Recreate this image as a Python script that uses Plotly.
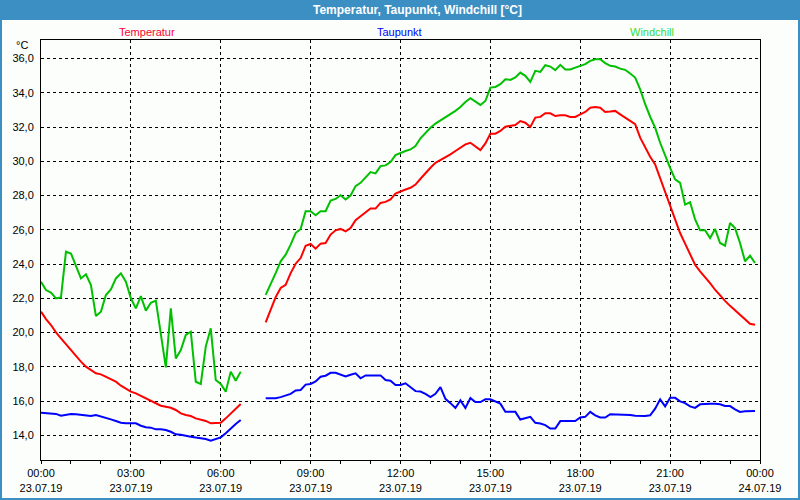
import pandas as pd
import plotly.graph_objects as go

# 10-minute samples, two segments with a gap between 06:40 and 07:30
TIMES_A = pd.date_range("2019-07-23 00:00", "2019-07-23 06:40", freq="10min")
TIMES_B = pd.date_range("2019-07-23 07:30", "2019-07-23 23:50", freq="10min")

TEMP_A = [21.22, 20.79, 20.44, 20.01, 19.66, 19.31, 18.94, 18.59, 18.30, 18.01,
          17.81, 17.62, 17.56, 17.42, 17.27, 17.13, 16.90, 16.70, 16.55, 16.45,
          16.30, 16.16, 16.00, 15.87, 15.73, 15.67, 15.61, 15.48, 15.28, 15.19,
          15.13, 14.99, 14.93, 14.84, 14.70, 14.70, 14.74, 14.99, 15.28, 15.58,
          15.83]
TEMP_B = [20.59, 21.33, 22.07, 22.60, 22.79, 23.47, 24.02, 24.35, 25.07, 25.17,
          24.90, 25.19, 25.23, 25.72, 25.97, 26.05, 25.91, 26.10, 26.56, 26.79,
          26.99, 27.24, 27.24, 27.57, 27.63, 27.77, 28.12, 28.25, 28.35, 28.45,
          28.64, 28.98, 29.33, 29.62, 29.91, 30.07, 30.20, 30.40, 30.60, 30.79,
          30.99, 31.08, 30.85, 30.65, 31.04, 31.61, 31.61, 31.77, 32.02, 32.06,
          32.12, 32.35, 32.25, 32.00, 32.55, 32.59, 32.80,
          32.80, 32.64, 32.68, 32.68, 32.59, 32.59, 32.74, 32.88, 33.13, 33.17,
          33.13, 32.88, 32.90, 32.94, 32.74, 32.55, 32.35, 32.16, 31.38, 30.79,
          30.26, 29.81, 29.03, 28.16, 27.38, 26.60, 25.81, 25.19, 24.60, 23.96,
          23.57, 23.24, 22.89, 22.50, 22.15, 21.85, 21.56, 21.29, 21.03, 20.74,
          20.51, 20.45]

DEW_A = [15.32, 15.30, 15.28, 15.25, 15.15, 15.19, 15.25, 15.23, 15.19, 15.15,
         15.13, 15.19, 15.09, 14.99, 14.93, 14.84, 14.74, 14.70, 14.70, 14.70,
         14.56, 14.47, 14.45, 14.35, 14.35, 14.31, 14.21, 14.06, 14.04, 13.96,
         13.92, 13.88, 13.84, 13.79, 13.69, 13.77, 13.88, 14.12, 14.41, 14.66,
         14.89]
DEW_B = [16.17, 16.17, 16.17, 16.23, 16.33, 16.42, 16.62, 16.65, 16.96, 17.00,
         17.15, 17.42, 17.48, 17.65, 17.65, 17.54, 17.44, 17.54, 17.62, 17.33,
         17.50, 17.50, 17.50, 17.50, 17.23, 17.19, 16.94, 16.94, 17.04, 16.81,
         16.58, 16.56, 16.42, 16.23, 16.42, 16.81, 16.13, 15.88, 15.60, 16.04,
         15.60, 16.17, 15.94, 15.94, 16.10, 16.10, 15.98, 15.85, 15.37, 15.37,
         15.37, 14.92, 14.98, 15.08, 14.73, 14.69, 14.60, 14.40, 14.40, 14.83,
         14.83, 14.83, 14.83, 15.04, 15.08, 15.37, 15.17, 15.04, 15.04, 15.23,
         15.23, 15.23, 15.23, 15.19, 15.15, 15.13, 15.13, 15.17, 15.56, 16.10,
         15.69, 16.19, 16.19, 15.98, 15.88, 15.69, 15.60, 15.81, 15.85, 15.85,
         15.85, 15.81, 15.71, 15.71, 15.52, 15.37, 15.40, 15.42, 15.42]

CHILL_A = [22.97, 22.48, 22.33, 22.00, 22.05, 24.72, 24.62, 23.94, 23.16, 23.40,
           22.77, 20.96, 21.22, 22.19, 22.52, 23.16, 23.46, 22.97, 22.00, 21.41,
           22.13, 21.28, 21.74, 21.86, 19.76, 17.97, 21.41, 18.49, 18.98, 19.86,
           20.05, 17.13, 17.00, 19.18, 20.25, 17.23, 17.00, 16.55, 17.72, 17.19,
           17.72]
CHILL_B = [22.20, 22.79, 23.47, 24.16, 24.55, 25.13, 25.81, 26.05, 27.08, 27.08,
           26.85, 27.08, 27.08, 27.71, 27.80, 28.02, 27.77, 28.00, 28.55, 28.74,
           29.03, 29.37, 29.29, 29.72, 29.76, 29.95, 30.36, 30.50, 30.60, 30.69,
           30.89, 31.34, 31.67, 31.96, 32.20, 32.39, 32.53, 32.72, 32.94, 33.17,
           33.46, 33.68, 33.46, 33.29, 33.52, 34.30, 34.34, 34.50, 34.79, 34.75,
           34.89, 35.18, 34.99, 34.63, 35.28, 35.22, 35.61,
           35.53, 35.32, 35.63, 35.36, 35.36, 35.47, 35.57, 35.67, 35.86, 35.96,
           35.96, 35.73, 35.57, 35.53, 35.41, 35.34, 35.12, 34.89, 34.20, 33.33,
           32.60, 31.96, 31.08, 30.30, 29.62, 28.94, 28.74, 27.47, 27.61, 26.60,
           25.97, 25.97, 25.52, 26.05, 25.23, 25.07, 26.40, 26.10, 25.23, 24.16,
           24.49, 24.06]

SERIES = [("Temperatur", TEMP_A, TEMP_B, "#ff0000", "#ff0033"),
          ("Taupunkt", DEW_A, DEW_B, "#0000ff", "#0000ff"),
          ("Windchill", CHILL_A, CHILL_B, "#00c000", "#33dd33")]

Y_TICKS = [14, 16, 18, 20, 22, 24, 26, 28, 30, 32, 34, 36]
X_TICKS = pd.date_range("2019-07-23 00:00", "2019-07-24 00:00", freq="3h")
X_MINOR = pd.date_range("2019-07-23 00:00", "2019-07-24 00:00", freq="1h")

FONT = "Liberation Sans"
W, H = 800, 500
L, R, T, B = 41, 40, 40, 40
PW, PH = W - L - R, H - T - B


def px_x(x):
    return (x - L) / PW


def px_y(y):
    return 1 - (y - T) / PH


def label(x, y, text, color="black", size=11):
    fig.add_annotation(x=px_x(x), y=px_y(y), xref="paper", yref="paper",
                       xanchor="center", yanchor="middle", text=text,
                       showarrow=False,
                       font=dict(family=FONT, size=size, color=color))


fig = go.Figure()
times = list(TIMES_A) + [None] + list(TIMES_B)
for name, a, b, col, _ in SERIES:
    fig.add_trace(go.Scatter(
        x=times, y=list(a) + [None] + list(b), mode="lines", name=name,
        line=dict(color=col, width=2), connectgaps=False, showlegend=False,
    ))

# colored series names above the plot
for (name, _, _, _, tcol), cx in zip(SERIES, (147, 399, 652)):
    label(cx, 32, name, tcol)
label(22, 45, "°C")

# title bar and outer frame
fig.add_shape(type="rect", xref="paper", yref="paper", layer="below",
              x0=px_x(0), x1=px_x(W), y0=px_y(20), y1=px_y(0),
              fillcolor="#3c8fc3", line_width=0)
fig.add_shape(type="rect", xref="paper", yref="paper",
              x0=px_x(0), x1=px_x(W), y0=px_y(H), y1=px_y(0),
              fillcolor="rgba(0,0,0,0)", line=dict(color="#3c8fc3", width=4))
label(417, 10, "<b>Temperatur, Taupunkt, Windchill [°C]</b>", "white", 12)

fig.update_xaxes(
    type="date", range=[X_TICKS[0], X_TICKS[-1]], automargin=False,
    tickmode="array", tickvals=list(X_TICKS),
    ticktext=[f"{t:%H:%M}<br>{t:%d.%m.%y}" for t in X_TICKS],
    ticks="outside", ticklen=3, tickcolor="black",
    minor=dict(tickmode="array", tickvals=list(X_MINOR), ticks="outside",
               ticklen=3, tickcolor="black", showgrid=False),
    showgrid=True, gridcolor="black", gridwidth=1, griddash="3px,3px",
    showline=True, linecolor="black", linewidth=1, mirror=True,
    zeroline=False, tickfont=dict(family=FONT, size=11, color="black"),
)
fig.update_yaxes(
    range=[12.56, 37.08], tickmode="array", tickvals=Y_TICKS, automargin=False,
    ticktext=[f"{v:.1f}".replace(".", ",") for v in Y_TICKS],
    ticks="", ticklabelstandoff=4,
    showgrid=True, gridcolor="black", gridwidth=1, griddash="3px,3px",
    showline=True, linecolor="black", linewidth=1, mirror=True,
    zeroline=False, tickfont=dict(family=FONT, size=11, color="black"),
)

fig.update_layout(
    width=W, height=H,
    margin=dict(l=L, r=R, t=T, b=B),
    paper_bgcolor="#fbfefb", plot_bgcolor="#fbfefb",
    font=dict(family=FONT, size=11, color="black"),
)

# drop the default page margin so the figure sits at the window's corner
fig.write_html("out.html", config={"displayModeBar": False}, post_script=(
    "document.body.style.margin='0';document.body.style.overflow='hidden';"))
